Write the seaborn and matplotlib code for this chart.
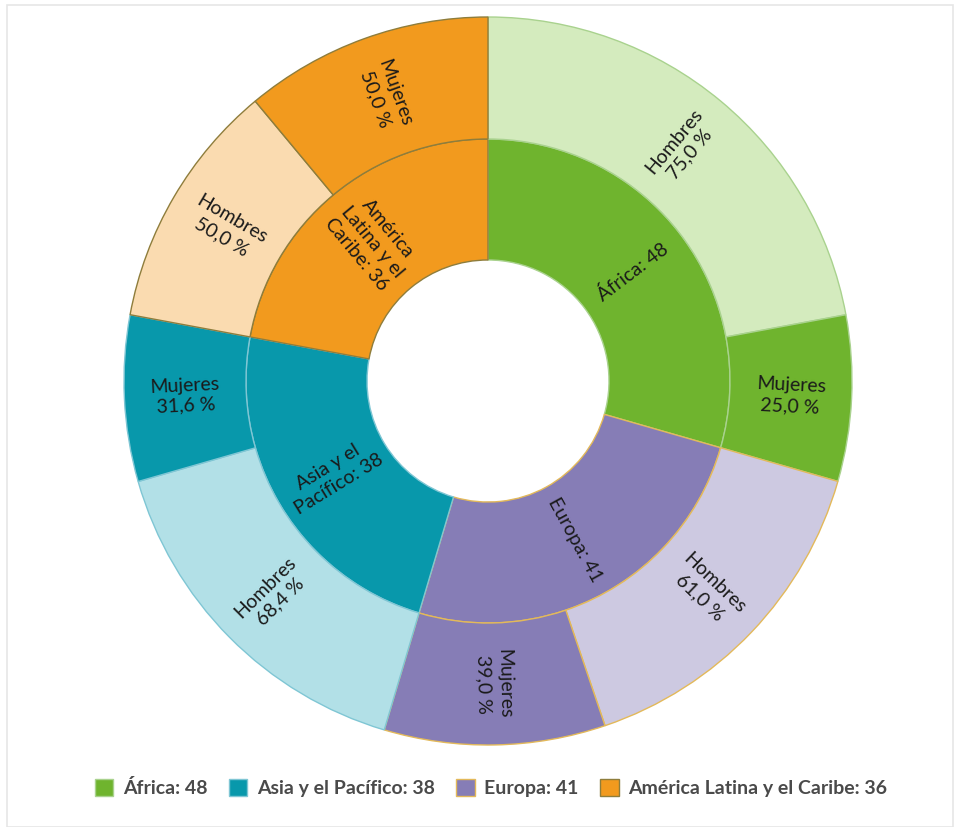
import matplotlib
matplotlib.use("Agg")
import matplotlib.pyplot as plt
import seaborn as sns
import numpy as np
from matplotlib.patches import Rectangle

# Regions (inner ring) in clockwise order starting at 12 o'clock
regions = ["África", "Europa", "Asia y el Pacífico", "América Latina y el Caribe"]
region_totals = [48, 41, 38, 36]
inner_labels = ["África: 48", "Europa: 41", "Asia y el\nPacífico: 38", "América\nLatina y el\nCaribe: 36"]

# Outer ring: men / women per region (percentages of each region total)
hombres_pct = [75.0, 61.0, 68.4, 50.0]
mujeres_pct = [25.0, 39.0, 31.6, 50.0]

legend_order = ["África", "Asia y el Pacífico", "Europa", "América Latina y el Caribe"]

dark_colors = {"África": "#6fb42e", "Europa": "#867db6",
               "Asia y el Pacífico": "#0898ab", "América Latina y el Caribe": "#f29a1e"}
light_colors = {"África": "#d4ebbe", "Europa": "#cdc9e1",
                "Asia y el Pacífico": "#b2e0e7", "América Latina y el Caribe": "#fadbb0"}
edge_colors = {"África": "#a9d28e", "Europa": "#e3b95a",
               "Asia y el Pacífico": "#7fc6d4", "América Latina y el Caribe": "#8e7d3c"}

sns.set_theme(style="white")
plt.rcParams["font.family"] = ["Lato", "DejaVu Sans"]

W, H = 958, 827
fig = plt.figure(figsize=(W / 100, H / 100), dpi=100)
cx, cy, half = 488, 381, 380
ax = fig.add_axes([(cx - half) / W, 1 - (cy + half) / H, 2 * half / W, 2 * half / H])

r_out, r_mid, r_hole = 364 / half, 242 / half, 121 / half

# outer ring values, derived from region totals and percentages
outer_vals, outer_cols, outer_edges, outer_txt = [], [], [], []
for reg, tot, h, m in zip(regions, region_totals, hombres_pct, mujeres_pct):
    outer_vals += [tot * h / 100, tot * m / 100]
    outer_cols += [light_colors[reg], dark_colors[reg]]
    outer_edges += [edge_colors[reg]] * 2
    outer_txt += [f"Hombres\n{h:.1f} %".replace(".", ","), f"Mujeres\n{m:.1f} %".replace(".", ",")]

inner_wedges, _ = ax.pie(region_totals, radius=r_mid, startangle=90, counterclock=False,
                         colors=[dark_colors[r] for r in regions],
                         wedgeprops=dict(width=r_mid - r_hole, linewidth=1.0))
for w, reg in zip(inner_wedges, regions):
    w.set_edgecolor(edge_colors[reg])

outer_wedges, _ = ax.pie(outer_vals, radius=r_out, startangle=90, counterclock=False,
                         colors=outer_cols,
                         wedgeprops=dict(width=r_out - r_mid, linewidth=1.0))
for w, ec in zip(outer_wedges, outer_edges):
    w.set_edgecolor(ec)

ax.set_xlim(-1, 1)
ax.set_ylim(-1, 1)
ax.set_aspect("equal")
ax.axis("off")


def radial_label(wedge, radius, text, size):
    mid = (wedge.theta1 + wedge.theta2) / 2.0
    rad = np.deg2rad(mid)
    x, y = radius * np.cos(rad), radius * np.sin(rad)
    a = (mid + 180) % 360 - 180
    rot = a
    if a > 90:
        rot = a - 180
    elif a < -90:
        rot = a + 180
    ax.text(x, y, text, rotation=rot, rotation_mode="anchor", ha="center", va="center",
            fontsize=size, color="#1a1a1a", linespacing=1.25)


for w, t in zip(inner_wedges, inner_labels):
    radial_label(w, (r_mid + r_hole) / 2, t, 14)
for w, t in zip(outer_wedges, outer_txt):
    radial_label(w, (r_out + r_mid) / 2, t, 14)

# legend
handles = [Rectangle((0, 0), 1, 1, facecolor=dark_colors[r], edgecolor=edge_colors[r], linewidth=1)
           for r in legend_order]
labels = [f"{r}: {region_totals[regions.index(r)]}" for r in legend_order]
leg = fig.legend(handles, labels, loc="center", bbox_to_anchor=(491 / W, 1 - 788 / H), ncol=4,
                 frameon=False, handlelength=0.95, handleheight=0.95, handletextpad=0.5,
                 columnspacing=1.1, prop=dict(weight="bold", size=14))
for t in leg.get_texts():
    t.set_color("#4a4a4a")

# faint outer frame
fig.patches.append(Rectangle((7 / W, 0), (953 - 7) / W, 1 - 5 / H, transform=fig.transFigure,
                             fill=False, edgecolor="#e6e6e6", linewidth=1.2))

fig.savefig("out.png", dpi=100, facecolor="white")
